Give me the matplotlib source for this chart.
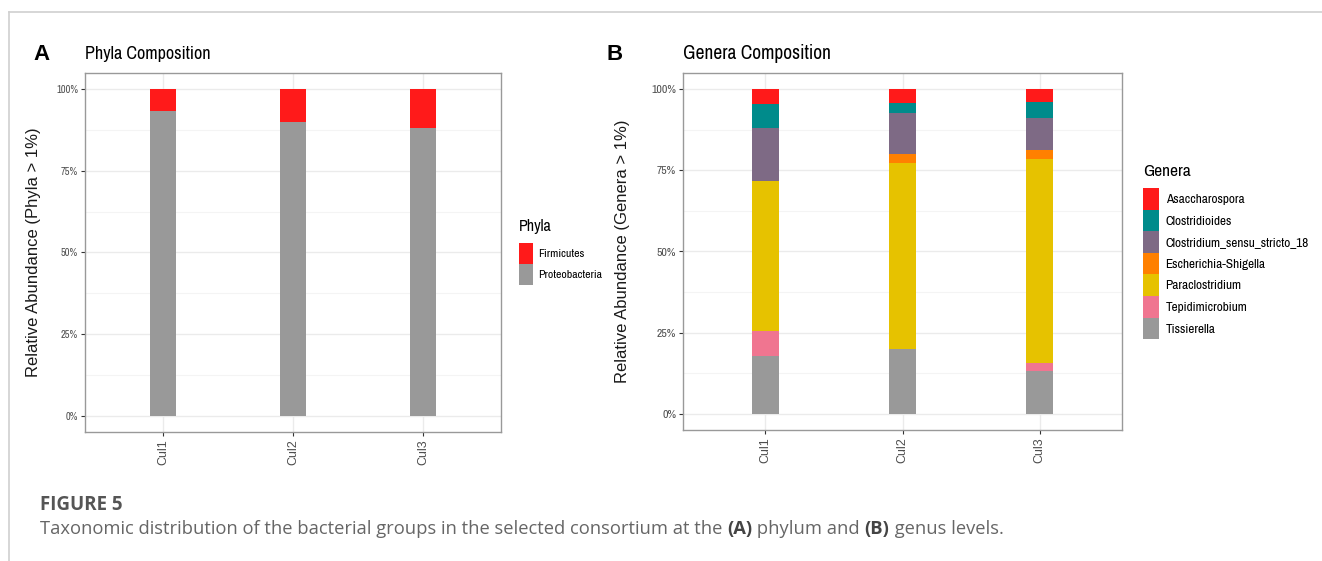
import matplotlib.pyplot as plt
from matplotlib.lines import Line2D
import numpy as np

samples = ['Cul1', 'Cul2', 'Cul3']

# phylum level (fractions, bottom to top: Proteobacteria, Firmicutes)
phyla = ['Firmicutes', 'Proteobacteria']
phyla_colors = ['#FF1A1A', '#999999']
firmicutes = [0.066, 0.099, 0.117]
proteobacteria = [0.934, 0.901, 0.883]

# genus level
genera = ['Asaccharospora', 'Clostridioides', 'Clostridium_sensu_stricto_18',
          'Escherichia-Shigella', 'Paraclostridium', 'Tepidimicrobium', 'Tissierella']
genera_colors = ['#FF1A1A', '#008B8B', '#7E6A85', '#FF8000', '#E6C200', '#F07590', '#999999']
asaccharospora = [0.047, 0.041, 0.040]
clostridioides = [0.071, 0.032, 0.049]
clostridium_ss18 = [0.166, 0.126, 0.098]
escherichia = [0.000, 0.027, 0.029]
paraclostridium = [0.462, 0.573, 0.629]
tepidimicrobium = [0.077, 0.000, 0.024]
tissierella = [0.177, 0.201, 0.131]

pct_ticks = [0, 0.25, 0.5, 0.75, 1.0]
pct_labels = ['0%', '25%', '50%', '75%', '100%']

NARROW = ['Liberation Sans Narrow', 'Archivo Narrow', 'Liberation Sans', 'DejaVu Sans']
plt.rcParams['font.family'] = ['Liberation Sans', 'DejaVu Sans']

W, H = 1322, 561
fig = plt.figure(figsize=(W / 100, H / 100), dpi=100)


def stacked(ax, series, colors):
    x = np.arange(1, len(samples) + 1)
    bottom = np.zeros(len(samples))
    handles = []
    for vals, c in zip(series, colors):
        h = ax.bar(x, vals, width=0.2, bottom=bottom, color=c, linewidth=0, zorder=3)
        bottom += np.array(vals)
        handles.append(h)
    return handles


def style(ax, tick_size, ylabel, lab_x, lab_size):
    ax.set_xlim(0.4, 3.6)
    ax.set_ylim(-0.05, 1.05)
    ax.set_xticks([1, 2, 3])
    ax.set_xticklabels(samples, rotation=90, fontsize=9, color='#4d4d4d')
    ax.set_yticks(pct_ticks)
    ax.set_yticklabels(pct_labels, fontsize=tick_size, color='#4d4d4d', family=NARROW)
    ax.set_yticks([0.125, 0.375, 0.625, 0.875], minor=True)
    ax.tick_params(which='minor', length=0)
    ax.tick_params(which='major', length=3, width=0.8, color='#333333', pad=2)
    ax.grid(True, which='major', color='#EBEBEB', lw=1.0, zorder=0)
    ax.grid(True, which='minor', axis='y', color='#F4F4F4', lw=0.8, zorder=0)
    for s in ax.spines.values():
        s.set_color('#999999')
        s.set_linewidth(1.0)
    ax.set_ylabel(ylabel, fontsize=lab_size, color='#1a1a1a')
    ax.yaxis.set_label_coords(lab_x, 0.5)


def key_height(px, fs):
    # legend handleheight giving a patch of about px pixels
    return (px / (1.389 * fs) - 0.245) / 0.65


# panel A
axA = fig.add_axes([85 / W, 1 - 432 / H, 416 / W, 359 / H])
hA = stacked(axA, [proteobacteria, firmicutes], phyla_colors[::-1])
style(axA, 7.5, 'Relative Abundance (Phyla > 1%)', -0.105, 12)
fig.text(85 / W, 1 - 54 / H, 'Phyla Composition', fontsize=13, family=NARROW, va='center')
fig.text(519 / W, 1 - 227 / H, 'Phyla', fontsize=11.5, family=NARROW, va='center')
axA.legend(hA[::-1], phyla, loc='upper left',
           bbox_to_anchor=(519 / W, 1 - 243 / H), bbox_transform=fig.transFigure,
           frameon=False, borderpad=0, borderaxespad=0, handlelength=14 / (1.389 * 8.5),
           handleheight=key_height(21, 8.5), handletextpad=0.4, labelspacing=0.0,
           prop={'family': NARROW, 'size': 8.5})

# panel B
axB = fig.add_axes([683 / W, 1 - 430 / H, 439 / W, 357 / H])
series_B = [tissierella, tepidimicrobium, paraclostridium, escherichia,
            clostridium_ss18, clostridioides, asaccharospora]
hB = stacked(axB, series_B, genera_colors[::-1])
style(axB, 8.5, 'Relative Abundance (Genera > 1%)', -0.121, 12)
fig.text(683 / W, 1 - 54 / H, 'Genera Composition', fontsize=14, family=NARROW, va='center')
fig.text(1143 / W, 1 - 172 / H, 'Genera', fontsize=12.5, family=NARROW, va='center')
axB.legend(hB[::-1], genera, loc='upper left',
           bbox_to_anchor=(1143 / W, 1 - 188 / H), bbox_transform=fig.transFigure,
           frameon=False, borderpad=0, borderaxespad=0, handlelength=16 / (1.389 * 9.5),
           handleheight=key_height(21.6, 9.5), handletextpad=0.5, labelspacing=0.0,
           prop={'family': NARROW, 'size': 9.5})

# panel letters
fig.text(41 / W, 1 - 55 / H, 'A', fontsize=16, fontweight='bold', ha='center', va='center')
fig.text(615 / W, 1 - 55 / H, 'B', fontsize=16, fontweight='bold', ha='center', va='center')

# page frame lines
fig.add_artist(Line2D([9 / W, 1], [1 - 12 / H, 1 - 12 / H], color='#D0D0D0', lw=1.2))
fig.add_artist(Line2D([9 / W, 9 / W], [0, 1 - 12 / H], color='#D0D0D0', lw=1.2))

# caption
cap = ['Open Sans', 'DejaVu Sans']
fig.text(40 / W, 1 - 505 / H, 'FIGURE 5', fontsize=13.5, fontweight='bold',
         color='#555555', family=cap, va='center')
parts = [('Taxonomic distribution of the bacterial groups in the selected consortium at the ', 'normal'),
         ('(A)', 'bold'), (' phylum and ', 'normal'), ('(B)', 'bold'), (' genus levels.', 'normal')]
fig.canvas.draw()
r = fig.canvas.get_renderer()
xpos = 40
for txt, wt in parts:
    t = fig.text(xpos / W, 1 - 529 / H, txt, fontsize=13.2, fontweight=wt,
                 color='#666666' if wt == 'normal' else '#444444', family=cap, va='center')
    xpos += t.get_window_extent(r).width

fig.savefig('out.png', dpi=100)
